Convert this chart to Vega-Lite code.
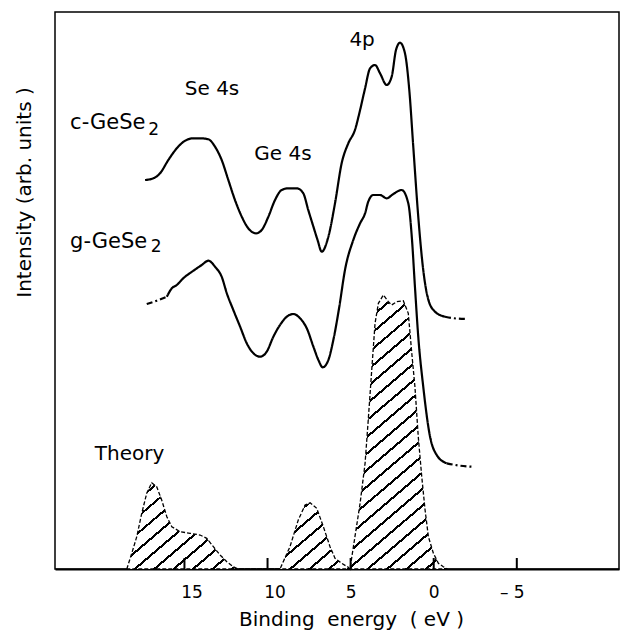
{
  "$schema": "https://vega.github.io/schema/vega-lite/v6.json",
  "autosize": {"type": "none"},
  "padding": {"left": 55, "top": 12, "right": 1, "bottom": 64},
  "width": 564,
  "height": 557,
  "background": "white",
  "config": {
    "view": {"stroke": "black", "strokeWidth": 1.5},
    "font": "DejaVu Sans"
  },
  "datasets": {
    "spectra": [
      {"part": "c1", "style": "solid", "energy": 17.37, "intensity": 389},
      {"part": "c1", "style": "solid", "energy": 16.87, "intensity": 390.7},
      {"part": "c1", "style": "solid", "energy": 16.47, "intensity": 395.7},
      {"part": "c1", "style": "solid", "energy": 15.97, "intensity": 409},
      {"part": "c1", "style": "solid", "energy": 15.46, "intensity": 420.7},
      {"part": "c1", "style": "solid", "energy": 14.96, "intensity": 428.3},
      {"part": "c1", "style": "solid", "energy": 14.46, "intensity": 430.7},
      {"part": "c1", "style": "solid", "energy": 14.06, "intensity": 430.7},
      {"part": "c1", "style": "solid", "energy": 13.56, "intensity": 429.7},
      {"part": "c1", "style": "solid", "energy": 13.16, "intensity": 422.3},
      {"part": "c1", "style": "solid", "energy": 12.76, "intensity": 409},
      {"part": "c1", "style": "solid", "energy": 12.36, "intensity": 389},
      {"part": "c1", "style": "solid", "energy": 11.96, "intensity": 369},
      {"part": "c1", "style": "solid", "energy": 11.55, "intensity": 352.3},
      {"part": "c1", "style": "solid", "energy": 11.16, "intensity": 340.7},
      {"part": "c1", "style": "solid", "energy": 10.69, "intensity": 335.7},
      {"part": "c1", "style": "solid", "energy": 10.35, "intensity": 339},
      {"part": "c1", "style": "solid", "energy": 9.95, "intensity": 352.3},
      {"part": "c1", "style": "solid", "energy": 9.55, "intensity": 369},
      {"part": "c1", "style": "solid", "energy": 9.15, "intensity": 379},
      {"part": "c1", "style": "solid", "energy": 8.75, "intensity": 380.7},
      {"part": "c1", "style": "solid", "energy": 8.24, "intensity": 380.7},
      {"part": "c1", "style": "solid", "energy": 7.85, "intensity": 375.7},
      {"part": "c1", "style": "solid", "energy": 7.55, "intensity": 359},
      {"part": "c1", "style": "solid", "energy": 7.24, "intensity": 342.3},
      {"part": "c1", "style": "solid", "energy": 6.99, "intensity": 329},
      {"part": "c1", "style": "solid", "energy": 6.74, "intensity": 317.3},
      {"part": "c1", "style": "solid", "energy": 6.34, "intensity": 332.3},
      {"part": "c1", "style": "solid", "energy": 5.94, "intensity": 365.7},
      {"part": "c1", "style": "solid", "energy": 5.54, "intensity": 405.7},
      {"part": "c1", "style": "solid", "energy": 5.14, "intensity": 425.7},
      {"part": "c1", "style": "solid", "energy": 4.74, "intensity": 439},
      {"part": "c1", "style": "solid", "energy": 4.43, "intensity": 459},
      {"part": "c1", "style": "solid", "energy": 4.13, "intensity": 480.7},
      {"part": "c1", "style": "solid", "energy": 3.83, "intensity": 500.7},
      {"part": "c1", "style": "solid", "energy": 3.53, "intensity": 504},
      {"part": "c1", "style": "solid", "energy": 3.23, "intensity": 495.7},
      {"part": "c1", "style": "solid", "energy": 2.83, "intensity": 484},
      {"part": "c1", "style": "solid", "energy": 2.53, "intensity": 492.3},
      {"part": "c1", "style": "solid", "energy": 2.27, "intensity": 519},
      {"part": "c1", "style": "solid", "energy": 2.03, "intensity": 526.3},
      {"part": "c1", "style": "solid", "energy": 1.73, "intensity": 515.7},
      {"part": "c1", "style": "solid", "energy": 1.47, "intensity": 479},
      {"part": "c1", "style": "solid", "energy": 1.23, "intensity": 422.3},
      {"part": "c1", "style": "solid", "energy": 0.93, "intensity": 352.3},
      {"part": "c1", "style": "solid", "energy": 0.63, "intensity": 299},
      {"part": "c1", "style": "solid", "energy": 0.32, "intensity": 269},
      {"part": "c1", "style": "solid", "energy": -0.08, "intensity": 257.3},
      {"part": "c1", "style": "solid", "energy": -0.68, "intensity": 252.3},
      {"part": "c2", "style": "dashed", "energy": -0.68, "intensity": 252.3},
      {"part": "c2", "style": "dashed", "energy": -1.34, "intensity": 250.5},
      {"part": "c2", "style": "dashed", "energy": -2.0, "intensity": 250},
      {"part": "g1", "style": "dashed", "energy": 17.27, "intensity": 265},
      {"part": "g1", "style": "dashed", "energy": 16.67, "intensity": 268.3},
      {"part": "g1", "style": "dashed", "energy": 16.06, "intensity": 272.3},
      {"part": "g2", "style": "solid", "energy": 16.06, "intensity": 272.3},
      {"part": "g2", "style": "solid", "energy": 15.76, "intensity": 280.7},
      {"part": "g2", "style": "solid", "energy": 15.46, "intensity": 284},
      {"part": "g2", "style": "solid", "energy": 15.07, "intensity": 290.7},
      {"part": "g2", "style": "solid", "energy": 14.46, "intensity": 298.3},
      {"part": "g2", "style": "solid", "energy": 13.96, "intensity": 304},
      {"part": "g2", "style": "solid", "energy": 13.56, "intensity": 308.3},
      {"part": "g2", "style": "solid", "energy": 13.16, "intensity": 302.3},
      {"part": "g2", "style": "solid", "energy": 12.76, "intensity": 292.3},
      {"part": "g2", "style": "solid", "energy": 12.45, "intensity": 275.7},
      {"part": "g2", "style": "solid", "energy": 12.06, "intensity": 259},
      {"part": "g2", "style": "solid", "energy": 11.65, "intensity": 242.3},
      {"part": "g2", "style": "solid", "energy": 11.25, "intensity": 225.7},
      {"part": "g2", "style": "solid", "energy": 10.85, "intensity": 215.7},
      {"part": "g2", "style": "solid", "energy": 10.45, "intensity": 212.3},
      {"part": "g2", "style": "solid", "energy": 10.05, "intensity": 217.3},
      {"part": "g2", "style": "solid", "energy": 9.65, "intensity": 232.3},
      {"part": "g2", "style": "solid", "energy": 9.25, "intensity": 244},
      {"part": "g2", "style": "solid", "energy": 8.84, "intensity": 252.3},
      {"part": "g2", "style": "solid", "energy": 8.45, "intensity": 255},
      {"part": "g2", "style": "solid", "energy": 8.04, "intensity": 250.7},
      {"part": "g2", "style": "solid", "energy": 7.64, "intensity": 240.7},
      {"part": "g2", "style": "solid", "energy": 7.24, "intensity": 222.3},
      {"part": "g2", "style": "solid", "energy": 6.94, "intensity": 209},
      {"part": "g2", "style": "solid", "energy": 6.68, "intensity": 201.7},
      {"part": "g2", "style": "solid", "energy": 6.34, "intensity": 209},
      {"part": "g2", "style": "solid", "energy": 6.04, "intensity": 229},
      {"part": "g2", "style": "solid", "energy": 5.68, "intensity": 262.3},
      {"part": "g2", "style": "solid", "energy": 5.34, "intensity": 299},
      {"part": "g2", "style": "solid", "energy": 4.84, "intensity": 329},
      {"part": "g2", "style": "solid", "energy": 4.43, "intensity": 345.7},
      {"part": "g2", "style": "solid", "energy": 4.13, "intensity": 355.7},
      {"part": "g2", "style": "solid", "energy": 3.94, "intensity": 367.3},
      {"part": "g2", "style": "solid", "energy": 3.63, "intensity": 374},
      {"part": "g2", "style": "solid", "energy": 3.23, "intensity": 374},
      {"part": "g2", "style": "solid", "energy": 2.83, "intensity": 370.7},
      {"part": "g2", "style": "solid", "energy": 2.43, "intensity": 375},
      {"part": "g2", "style": "solid", "energy": 1.93, "intensity": 379},
      {"part": "g2", "style": "solid", "energy": 1.53, "intensity": 365.7},
      {"part": "g2", "style": "solid", "energy": 1.32, "intensity": 332.3},
      {"part": "g2", "style": "solid", "energy": 1.13, "intensity": 282.3},
      {"part": "g2", "style": "solid", "energy": 0.93, "intensity": 232.3},
      {"part": "g2", "style": "solid", "energy": 0.63, "intensity": 182.3},
      {"part": "g2", "style": "solid", "energy": 0.22, "intensity": 132.3},
      {"part": "g2", "style": "solid", "energy": -0.18, "intensity": 114},
      {"part": "g2", "style": "solid", "energy": -0.78, "intensity": 105.7},
      {"part": "g3", "style": "dashed", "energy": -0.78, "intensity": 105.7},
      {"part": "g3", "style": "dashed", "energy": -1.58, "intensity": 103.3},
      {"part": "g3", "style": "dashed", "energy": -2.29, "intensity": 102.3}
    ],
    "theory": [
      {"energy": 18.47, "intensity": 0},
      {"energy": 18.17, "intensity": 15.7},
      {"energy": 17.87, "intensity": 32.3},
      {"energy": 17.57, "intensity": 55.7},
      {"energy": 17.27, "intensity": 75.7},
      {"energy": 16.97, "intensity": 86.3},
      {"energy": 16.67, "intensity": 82.3},
      {"energy": 16.37, "intensity": 69},
      {"energy": 16.06, "intensity": 52.3},
      {"energy": 15.76, "intensity": 42.3},
      {"energy": 15.26, "intensity": 37.3},
      {"energy": 14.66, "intensity": 35.7},
      {"energy": 14.06, "intensity": 34},
      {"energy": 13.66, "intensity": 30.7},
      {"energy": 13.26, "intensity": 22.3},
      {"energy": 12.86, "intensity": 14},
      {"energy": 12.45, "intensity": 7.3},
      {"energy": 12.06, "intensity": 2.3},
      {"energy": 11.76, "intensity": 0},
      {"energy": 9.25, "intensity": 0},
      {"energy": 8.65, "intensity": 22.3},
      {"energy": 8.15, "intensity": 49},
      {"energy": 7.74, "intensity": 64},
      {"energy": 7.44, "intensity": 66.3},
      {"energy": 7.04, "intensity": 60.7},
      {"energy": 6.64, "intensity": 42.3},
      {"energy": 6.24, "intensity": 22.3},
      {"energy": 5.94, "intensity": 10.7},
      {"energy": 5.54, "intensity": 5.7},
      {"energy": 5.14, "intensity": 1.7},
      {"energy": 5.04, "intensity": 0},
      {"energy": 4.74, "intensity": 32.3},
      {"energy": 4.43, "intensity": 65.7},
      {"energy": 4.13, "intensity": 105.7},
      {"energy": 3.94, "intensity": 149},
      {"energy": 3.73, "intensity": 199},
      {"energy": 3.53, "intensity": 245.7},
      {"energy": 3.33, "intensity": 265.7},
      {"energy": 3.03, "intensity": 274},
      {"energy": 2.73, "intensity": 267.3},
      {"energy": 2.53, "intensity": 264},
      {"energy": 2.23, "intensity": 267.3},
      {"energy": 1.83, "intensity": 268.3},
      {"energy": 1.53, "intensity": 255.7},
      {"energy": 1.32, "intensity": 215.7},
      {"energy": 1.13, "intensity": 182.3},
      {"energy": 0.93, "intensity": 132.3},
      {"energy": 0.72, "intensity": 92.3},
      {"energy": 0.52, "intensity": 59},
      {"energy": 0.32, "intensity": 32.3},
      {"energy": 0.02, "intensity": 15.7},
      {"energy": -0.28, "intensity": 5.7},
      {"energy": -0.58, "intensity": 2.3},
      {"energy": -0.8, "intensity": 0}
    ],
    "ticks": [
      {"energy": 15, "intensity": 0, "top": 11},
      {"energy": 10, "intensity": 0, "top": 11},
      {"energy": 5, "intensity": 0, "top": 11},
      {"energy": 0, "intensity": 0, "top": 11},
      {"energy": -5, "intensity": 0, "top": 11}
    ],
    "labels": [
      {"text": "4p", "energy": 4.31, "intensity": 523},
      {"text": "Se 4s", "energy": 13.34, "intensity": 474},
      {"text": "Ge 4s", "energy": 9.07, "intensity": 409},
      {"text": "Theory", "energy": 18.3, "intensity": 109}
    ],
    "names": [
      {"text": "c-GeSe", "energy": 21.88, "intensity": 440},
      {"text": "g-GeSe", "energy": 21.88, "intensity": 321}
    ],
    "subscripts": [
      {"text": "2", "energy": 16.85, "intensity": 434},
      {"text": "2", "energy": 16.7, "intensity": 317}
    ]
  },
  "encoding": {
    "x": {
      "field": "energy",
      "type": "quantitative",
      "scale": {"domain": [22.79, -11.15], "nice": false, "zero": false},
      "axis": {
        "values": [15, 10, 5, 0, -5],
        "grid": false,
        "domainColor": "black",
        "domainWidth": 2,
        "ticks": false,
        "labelPadding": 15,
        "labelFont": "DejaVu Sans",
        "labelFontSize": 17,
        "labelColor": "black",
        "labelOffset": {"condition": [{"test": "datum.value >= 10", "value": 7}, {"test": "datum.value < 0", "value": -5}], "value": 0},
        "labelExpr": "datum.value < 0 ? '\u2013\u00a0' + (-datum.value) : datum.value",
        "title": "Binding\u00a0\u00a0energy\u00a0\u00a0(\u00a0eV\u00a0)",
        "titleFont": "DejaVu Sans",
        "titleFontSize": 20,
        "titleFontWeight": "normal",
        "titleColor": "black",
        "titleX": 296,
        "titleY": 56,
        "titleBaseline": "alphabetic",
        "titleAlign": "center"
      }
    },
    "y": {
      "field": "intensity",
      "type": "quantitative",
      "scale": {"domain": [0, 557], "nice": false, "zero": false},
      "axis": {
        "grid": false,
        "domain": false,
        "ticks": false,
        "labels": false,
        "title": "Intensity (arb.\u00a0units\u00a0)",
        "titleFont": "DejaVu Sans",
        "titleFontSize": 20,
        "titleFontWeight": "normal",
        "titleColor": "black",
        "titleAngle": 270,
        "titleX": -31,
        "titleY": 180,
        "titleBaseline": "middle",
        "titleAlign": "center"
      }
    }
  },
  "layer": [
    {
      "data": {"name": "theory"},
      "mark": {
        "type": "area",
        "interpolate": "linear",
        "stroke": "black",
        "strokeWidth": 1.3,
        "strokeDash": [4, 2],
        "fill": {
          "gradient": "linear",
          "x1": 0, "y1": 0, "x2": 1, "y2": 1,
          "stops": [
            {"offset": 0, "color": "white"}, {"offset": 0.0252, "color": "white"}, {"offset": 0.0252, "color": "black"}, {"offset": 0.0303, "color": "black"},
            {"offset": 0.0303, "color": "white"}, {"offset": 0.0555, "color": "white"}, {"offset": 0.0555, "color": "black"}, {"offset": 0.0606, "color": "black"},
            {"offset": 0.0606, "color": "white"}, {"offset": 0.0858, "color": "white"}, {"offset": 0.0858, "color": "black"}, {"offset": 0.0909, "color": "black"},
            {"offset": 0.0909, "color": "white"}, {"offset": 0.1161, "color": "white"}, {"offset": 0.1161, "color": "black"}, {"offset": 0.1212, "color": "black"},
            {"offset": 0.1212, "color": "white"}, {"offset": 0.1464, "color": "white"}, {"offset": 0.1464, "color": "black"}, {"offset": 0.1515, "color": "black"},
            {"offset": 0.1515, "color": "white"}, {"offset": 0.1767, "color": "white"}, {"offset": 0.1767, "color": "black"}, {"offset": 0.1818, "color": "black"},
            {"offset": 0.1818, "color": "white"}, {"offset": 0.2070, "color": "white"}, {"offset": 0.2070, "color": "black"}, {"offset": 0.2121, "color": "black"},
            {"offset": 0.2121, "color": "white"}, {"offset": 0.2373, "color": "white"}, {"offset": 0.2373, "color": "black"}, {"offset": 0.2424, "color": "black"},
            {"offset": 0.2424, "color": "white"}, {"offset": 0.2676, "color": "white"}, {"offset": 0.2676, "color": "black"}, {"offset": 0.2727, "color": "black"},
            {"offset": 0.2727, "color": "white"}, {"offset": 0.2979, "color": "white"}, {"offset": 0.2979, "color": "black"}, {"offset": 0.3030, "color": "black"},
            {"offset": 0.3030, "color": "white"}, {"offset": 0.3282, "color": "white"}, {"offset": 0.3282, "color": "black"}, {"offset": 0.3333, "color": "black"},
            {"offset": 0.3333, "color": "white"}, {"offset": 0.3585, "color": "white"}, {"offset": 0.3585, "color": "black"}, {"offset": 0.3636, "color": "black"},
            {"offset": 0.3636, "color": "white"}, {"offset": 0.3888, "color": "white"}, {"offset": 0.3888, "color": "black"}, {"offset": 0.3939, "color": "black"},
            {"offset": 0.3939, "color": "white"}, {"offset": 0.4191, "color": "white"}, {"offset": 0.4191, "color": "black"}, {"offset": 0.4242, "color": "black"},
            {"offset": 0.4242, "color": "white"}, {"offset": 0.4494, "color": "white"}, {"offset": 0.4494, "color": "black"}, {"offset": 0.4545, "color": "black"},
            {"offset": 0.4545, "color": "white"}, {"offset": 0.4797, "color": "white"}, {"offset": 0.4797, "color": "black"}, {"offset": 0.4848, "color": "black"},
            {"offset": 0.4848, "color": "white"}, {"offset": 0.5100, "color": "white"}, {"offset": 0.5100, "color": "black"}, {"offset": 0.5152, "color": "black"},
            {"offset": 0.5152, "color": "white"}, {"offset": 0.5403, "color": "white"}, {"offset": 0.5403, "color": "black"}, {"offset": 0.5455, "color": "black"},
            {"offset": 0.5455, "color": "white"}, {"offset": 0.5706, "color": "white"}, {"offset": 0.5706, "color": "black"}, {"offset": 0.5758, "color": "black"},
            {"offset": 0.5758, "color": "white"}, {"offset": 0.6009, "color": "white"}, {"offset": 0.6009, "color": "black"}, {"offset": 0.6061, "color": "black"},
            {"offset": 0.6061, "color": "white"}, {"offset": 0.6312, "color": "white"}, {"offset": 0.6312, "color": "black"}, {"offset": 0.6364, "color": "black"},
            {"offset": 0.6364, "color": "white"}, {"offset": 0.6615, "color": "white"}, {"offset": 0.6615, "color": "black"}, {"offset": 0.6667, "color": "black"},
            {"offset": 0.6667, "color": "white"}, {"offset": 0.6918, "color": "white"}, {"offset": 0.6918, "color": "black"}, {"offset": 0.6970, "color": "black"},
            {"offset": 0.6970, "color": "white"}, {"offset": 0.7221, "color": "white"}, {"offset": 0.7221, "color": "black"}, {"offset": 0.7273, "color": "black"},
            {"offset": 0.7273, "color": "white"}, {"offset": 0.7524, "color": "white"}, {"offset": 0.7524, "color": "black"}, {"offset": 0.7576, "color": "black"},
            {"offset": 0.7576, "color": "white"}, {"offset": 0.7827, "color": "white"}, {"offset": 0.7827, "color": "black"}, {"offset": 0.7879, "color": "black"},
            {"offset": 0.7879, "color": "white"}, {"offset": 0.8130, "color": "white"}, {"offset": 0.8130, "color": "black"}, {"offset": 0.8182, "color": "black"},
            {"offset": 0.8182, "color": "white"}, {"offset": 0.8433, "color": "white"}, {"offset": 0.8433, "color": "black"}, {"offset": 0.8485, "color": "black"},
            {"offset": 0.8485, "color": "white"}, {"offset": 0.8736, "color": "white"}, {"offset": 0.8736, "color": "black"}, {"offset": 0.8788, "color": "black"},
            {"offset": 0.8788, "color": "white"}, {"offset": 0.9039, "color": "white"}, {"offset": 0.9039, "color": "black"}, {"offset": 0.9091, "color": "black"},
            {"offset": 0.9091, "color": "white"}, {"offset": 0.9342, "color": "white"}, {"offset": 0.9342, "color": "black"}, {"offset": 0.9394, "color": "black"},
            {"offset": 0.9394, "color": "white"}, {"offset": 0.9645, "color": "white"}, {"offset": 0.9645, "color": "black"}, {"offset": 0.9697, "color": "black"},
            {"offset": 0.9697, "color": "white"}, {"offset": 0.9948, "color": "white"}, {"offset": 0.9948, "color": "black"}, {"offset": 1, "color": "black"}
          ]
        }
      }
    },
    {
      "data": {"name": "ticks"},
      "mark": {"type": "rule", "color": "black", "strokeWidth": 2},
      "encoding": {
        "y2": {"field": "top"}
      }
    },
    {
      "data": {"name": "spectra"},
      "mark": {"type": "line", "color": "black", "strokeWidth": 2.2, "interpolate": "monotone"},
      "encoding": {
        "detail": {"field": "part", "type": "nominal"},
        "strokeDash": {
          "field": "style",
          "type": "nominal",
          "scale": {"domain": ["solid", "dashed"], "range": [[1, 0], [6, 3, 2, 3]]},
          "legend": null
        }
      }
    },
    {
      "data": {"name": "labels"},
      "mark": {"type": "text", "font": "DejaVu Sans", "fontSize": 20, "color": "black", "align": "center", "baseline": "alphabetic"},
      "encoding": {"text": {"field": "text", "type": "nominal"}}
    },
    {
      "data": {"name": "names"},
      "mark": {"type": "text", "font": "DejaVu Sans", "fontSize": 21, "color": "black", "align": "left", "baseline": "alphabetic"},
      "encoding": {"text": {"field": "text", "type": "nominal"}}
    },
    {
      "data": {"name": "subscripts"},
      "mark": {"type": "text", "font": "DejaVu Sans", "fontSize": 17, "color": "black", "align": "center", "baseline": "alphabetic"},
      "encoding": {"text": {"field": "text", "type": "nominal"}}
    }
  ]
}
